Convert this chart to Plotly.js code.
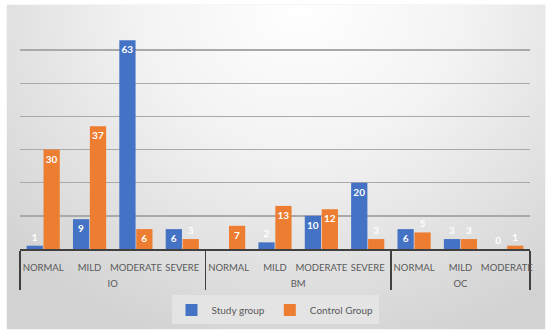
<!DOCTYPE html>
<html>
<head>
<meta charset="utf-8">
<script src="https://cdn.plot.ly/plotly-3.0.1.min.js"></script>
<style>
  html, body { margin: 0; padding: 0; background: #ffffff; }
  #wrap { position: relative; width: 550px; height: 336px; overflow: hidden; }
  #bg { position: absolute; left: 7px; top: 5px; width: 538px; height: 324px;
        background: radial-gradient(ellipse 75% 110% at 55% 0%, #ffffff 0%, #f3f3f3 40%, #d2d2d2 100%);
        box-shadow: 0 0 1px #c8c8c8; }
  #chart { position: absolute; left: 0; top: 0; width: 550px; height: 336px; }
</style>
</head>
<body>
<div id="wrap"><div id="bg"></div><div id="chart"></div></div>
<script>
const groups = ["IO","IO","IO","IO","BM","BM","BM","BM","OC","OC","OC"];
const categories = ["NORMAL","MILD","MODERATE","SEVERE","NORMAL","MILD","MODERATE","SEVERE","NORMAL","MILD","MODERATE"];
const studyGroup = [1, 9, 63, 6, null, 2, 10, 20, 6, 3, 0];
const controlGroup = [30, 37, 6, 3, 7, 13, 12, 3, 5, 3, 1];
const seriesNames = ["Study group", "Control Group"];

// group labels drawn one line lower, as in the reference
const groupLabels = groups.map(g => "<br>" + g);

const labelFont = {family: "Lato, 'Liberation Sans', sans-serif", size: 10, color: "#ffffff", weight: "bold"};

function barTrace(vals, name, color) {
  return {
    type: "bar",
    x: [groupLabels, categories],
    y: vals,
    name: name,
    marker: {color: color},
    text: vals.map(v => v === null ? "" : String(v)),
    textposition: vals.map(v => v === 0 ? "outside" : "auto"),
    insidetextanchor: "end",
    textangle: 0,
    constraintext: "none",
    insidetextfont: labelFont,
    outsidetextfont: labelFont,
    cliponaxis: false,
    hoverinfo: "none"
  };
}

const data = [
  barTrace(studyGroup, seriesNames[0], "#4472C4"),
  barTrace(controlGroup, seriesNames[1], "#ED7D31")
];

const layout = {
  width: 550, height: 336,
  margin: {l: 20, r: 20, t: 17, b: 80},
  paper_bgcolor: "rgba(0,0,0,0)",
  plot_bgcolor: "rgba(0,0,0,0)",
  font: {family: "Lato, 'Liberation Sans', sans-serif", size: 10, color: "#595959"},
  barmode: "group",
  bargap: 0.27,
  bargroupgap: 0.04,
  showlegend: true,
  legend: {
    orientation: "h", x: 0.5, xanchor: "center", y: -0.2, yanchor: "top",
    bgcolor: "#e4e4e4", font: {size: 10, color: "#595959"},
    itemwidth: 30, traceorder: "normal",
    tracegroupgap: 0
  },
  xaxis: {
    type: "multicategory",
    automargin: false,
    tickangle: 0,
    ticklabelstandoff: 9,
    showline: true, linecolor: "#404040", linewidth: 1.5,
    showdividers: true, dividercolor: "#404040", dividerwidth: 1.5,
    ticks: "", showgrid: false,
    tickfont: {size: 9.5, color: "#595959"}
  },
  yaxis: {
    automargin: false,
    range: [0, 70], dtick: 10,
    showticklabels: false, ticks: "",
    showgrid: true, gridcolor: "#a9a9a9", gridwidth: 1.3,
    zeroline: false, showline: false
  }
};

Plotly.newPlot("chart", data, layout, {staticPlot: true, displayModeBar: false});
</script>
</body>
</html>
